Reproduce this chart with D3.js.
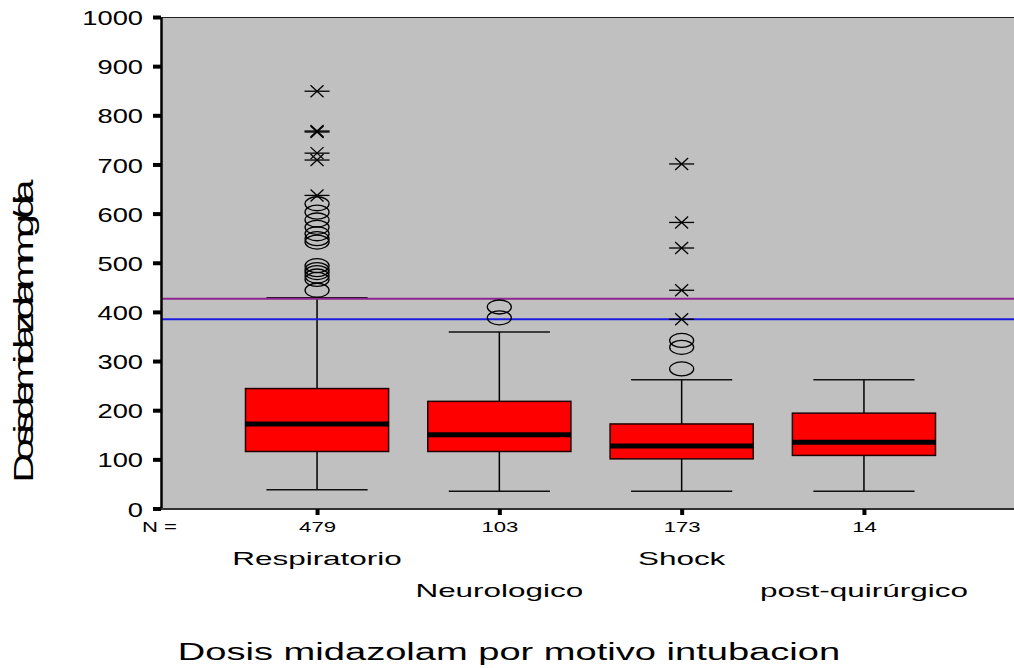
<!DOCTYPE html>
<html>
<head>
<meta charset="utf-8">
<script src="https://cdn.jsdelivr.net/npm/d3@7"></script>
<style>
  html, body { margin: 0; padding: 0; background: #ffffff; }
  svg { display: block; font-family: "Liberation Sans", Arial, sans-serif; }
</style>
</head>
<body>
<script>
// Midazolam dose (mg/day) by reason for intubation
const categories = ["Respiratorio", "Neurologico", "Shock", "post-quirúrgico"];
const nCounts = [479, 103, 173, 14];
const whiskerLow = [38, 35, 35, 35];
const q1 = [116, 116, 101, 108];
const median = [172, 150, 127, 135];
const q3 = [244, 218, 172, 194];
const whiskerHigh = [429, 359, 262, 262];
// outliers (circles) and extreme values (stars)
const outliersResp = [620, 603, 587, 572, 559, 549, 542, 494, 486, 480, 473, 466, 444];
const extremesResp = [849, 768, 766, 723, 709, 637];
const outliersNeuro = [410, 388];
const extremesNeuro = [];
const outliersShock = [342, 328, 284];
const extremesShock = [701, 582, 530, 444, 385];
const outliersPost = [];
const extremesPost = [];
const yTicks = [0, 100, 200, 300, 400, 500, 600, 700, 800, 900, 1000];
const refLines = [427, 385];
const refColors = ["#8e268e", "#1c1ce0"];
const yLabel = "Dosisdemidazolammg/dia";
const chartTitle = "Dosis midazolam por motivo intubacion";

const W = 1014, H = 668;
const plot = { left: 161, top: 17, right: 1014, bottom: 509 };

const svg = d3.select("body").append("svg").attr("width", W).attr("height", H);

const y = d3.scaleLinear().domain([0, 1000]).range([508.5, 17]);
const x = d3.scalePoint().domain(categories).range([161, 1020]).padding(0.856);
const step = x.step();
const boxW = step * 0.785;
const capW = step * 0.555;

// stretch text horizontally by a factor
function widen(sel, factor) {
  sel.each(function () {
    const w = this.getComputedTextLength();
    d3.select(this).attr("textLength", w * factor).attr("lengthAdjust", "spacingAndGlyphs");
  });
}

// plot background
svg.append("rect")
  .attr("x", plot.left).attr("y", plot.top)
  .attr("width", plot.right - plot.left).attr("height", plot.bottom - plot.top)
  .attr("fill", "#c0c0c0");
svg.append("line")
  .attr("x1", plot.left).attr("x2", plot.right)
  .attr("y1", plot.top + 0.5).attr("y2", plot.top + 0.5)
  .attr("stroke", "#222").attr("stroke-width", 1);

// boxes
const boxes = categories.map((c, i) => ({
  c, lo: whiskerLow[i], q1: q1[i], med: median[i], q3: q3[i], hi: whiskerHigh[i]
}));
const g = svg.append("g");
boxes.forEach(d => {
  const cx = x(d.c);
  g.append("line").attr("x1", cx).attr("x2", cx).attr("y1", y(d.hi)).attr("y2", y(d.q3))
    .attr("stroke", "#000").attr("stroke-width", 1.5);
  g.append("line").attr("x1", cx).attr("x2", cx).attr("y1", y(d.q1)).attr("y2", y(d.lo))
    .attr("stroke", "#000").attr("stroke-width", 1.5);
  [d.hi, d.lo].forEach(v => {
    g.append("line").attr("x1", cx - capW / 2).attr("x2", cx + capW / 2)
      .attr("y1", y(v)).attr("y2", y(v)).attr("stroke", "#111").attr("stroke-width", 1.5);
  });
  g.append("rect").attr("x", cx - boxW / 2).attr("y", y(d.q3))
    .attr("width", boxW).attr("height", y(d.q1) - y(d.q3))
    .attr("fill", "#ff0000").attr("stroke", "#200000").attr("stroke-width", 1.5);
  g.append("line").attr("x1", cx - boxW / 2).attr("x2", cx + boxW / 2)
    .attr("y1", y(d.med)).attr("y2", y(d.med)).attr("stroke", "#000").attr("stroke-width", 5);
});

// reference lines
refLines.forEach((v, i) => {
  svg.append("line").attr("x1", plot.left).attr("x2", plot.right)
    .attr("y1", y(v)).attr("y2", y(v))
    .attr("stroke", refColors[i]).attr("stroke-width", 2);
});

// outliers and extremes
const outliers = [outliersResp, outliersNeuro, outliersShock, outliersPost];
const extremes = [extremesResp, extremesNeuro, extremesShock, extremesPost];
const og = svg.append("g");
categories.forEach((c, i) => {
  const cx = x(c);
  og.selectAll(null).data(outliers[i]).join("ellipse")
    .attr("cx", cx).attr("cy", v => y(v)).attr("rx", 12).attr("ry", 7)
    .attr("fill", "none").attr("stroke", "#000").attr("stroke-width", 1.3);
  const st = og.selectAll(null).data(extremes[i]).join("g")
    .attr("transform", v => `translate(${cx},${y(v)})`)
    .attr("stroke", "#000").attr("stroke-width", 1.3);
  st.append("line").attr("x1", -12.5).attr("x2", 12.5).attr("y1", 0).attr("y2", 0);
  st.append("line").attr("x1", -6.5).attr("x2", 6.5).attr("y1", -6).attr("y2", 6);
  st.append("line").attr("x1", -6.5).attr("x2", 6.5).attr("y1", 6).attr("y2", -6);
});

// y axis
const yAxis = svg.append("g").attr("transform", `translate(${plot.left},0)`)
  .call(d3.axisLeft(y).tickValues(yTicks).tickFormat(d3.format("d"))
    .tickSizeInner(8).tickSizeOuter(0).tickPadding(10));
yAxis.select(".domain").attr("stroke", "#000").attr("stroke-width", 2.5);
yAxis.selectAll(".tick line").attr("stroke", "#000").attr("stroke-width", 4);
yAxis.selectAll(".tick text").attr("font-size", 21).attr("fill", "#000")
  .attr("font-family", "Liberation Sans, Arial, sans-serif").attr("dy", "0.36em");
widen(yAxis.selectAll(".tick text"), 1.3);

// x axis with case counts
const xAxis = svg.append("g").attr("transform", `translate(0,${plot.bottom})`)
  .call(d3.axisBottom(x).tickSizeInner(6).tickSizeOuter(0).tickPadding(7)
    .tickFormat(c => nCounts[categories.indexOf(c)]));
xAxis.select(".domain").attr("d", `M${plot.left},0H${plot.right}`)
  .attr("stroke", "#333").attr("stroke-width", 2);
xAxis.selectAll(".tick line").attr("stroke", "#000").attr("stroke-width", 4);
xAxis.selectAll(".tick text").attr("font-size", 14).attr("fill", "#000")
  .attr("font-family", "Liberation Sans, Arial, sans-serif");
widen(xAxis.selectAll(".tick text"), 1.58);

const nLab = svg.append("text").attr("x", 142).attr("y", 531.5)
  .attr("font-size", 14).attr("fill", "#000").text("N =");
widen(nLab, 1.58);

// category names on two staggered rows
const catLab = svg.append("g").selectAll("text").data(categories).join("text")
  .attr("x", d => x(d))
  .attr("y", (d, i) => i % 2 === 0 ? 565 : 597)
  .attr("text-anchor", "middle").attr("font-size", 18.5).attr("fill", "#000")
  .text(d => d);
widen(catLab, 1.7);

// title
const title = svg.append("text").attr("x", 509).attr("y", 660)
  .attr("text-anchor", "middle").attr("font-size", 23.5).attr("fill", "#000")
  .text(chartTitle);
widen(title, 1.62);

// y axis title (glyphs widened, spacing squeezed)
svg.append("g").attr("transform", "translate(33,331) rotate(-90) scale(1.5,1)")
  .append("text").attr("text-anchor", "middle").attr("font-size", 27).attr("fill", "#000")
  .attr("textLength", 202).attr("lengthAdjust", "spacing")
  .text(yLabel);
</script>
</body>
</html>
